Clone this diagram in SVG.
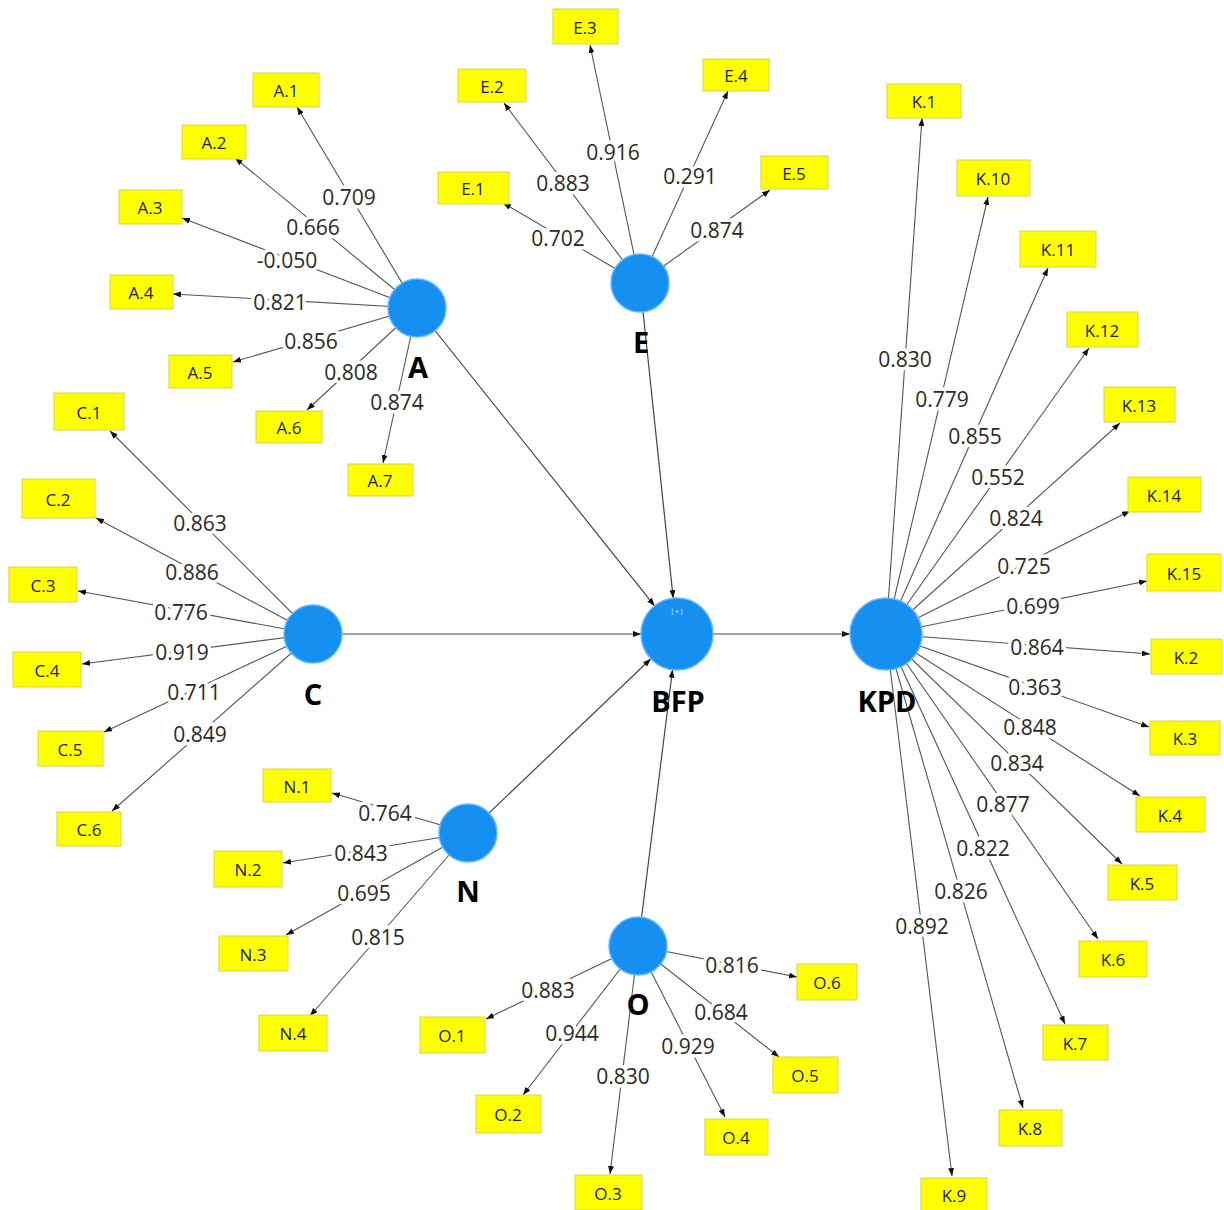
<svg xmlns="http://www.w3.org/2000/svg" width="1224" height="1210" viewBox="0 0 1224 1210">
<defs>
<marker id="ah" viewBox="0 0 8 6" refX="8" refY="3" markerWidth="8" markerHeight="6" markerUnits="userSpaceOnUse" orient="auto">
<path d="M0,0 L8,3 L0,6 z" fill="#111"/>
</marker>
<style>
.ln{stroke:#555;stroke-width:1.1;fill:none;marker-end:url(#ah)}
.st{stroke:#444;stroke-width:1.2;fill:none;marker-end:url(#ah)}
.ld{font-family:"Open Sans","Noto Sans","DejaVu Sans",sans-serif;font-size:21px;fill:#2a2a2a;text-anchor:middle;dominant-baseline:central;stroke:#fff;stroke-width:7;paint-order:stroke;stroke-linejoin:round}
.bx rect{fill:#ffff00;stroke:#d6d64a;stroke-width:1}
.bx text{font-family:"Open Sans","Noto Sans","DejaVu Sans",sans-serif;font-size:17px;fill:#222;text-anchor:middle;dominant-baseline:central}
.lv circle{fill:#1690f0;stroke:#62b8ff;stroke-width:1.5}
.lv text{font-family:"Open Sans","Noto Sans","DejaVu Sans",sans-serif;font-size:29px;font-weight:bold;fill:#000;text-anchor:middle}
.lv text.pl{font-family:"DejaVu Sans",sans-serif;font-size:7px;font-weight:normal;fill:#bfe3ff;text-anchor:middle}
</style>
</defs>
<rect width="1224" height="1210" fill="#fff"/>
<g id="connectors">
<!-- A -->
<line class="ln" x1="417" y1="308" x2="297" y2="107"/>
<line class="ln" x1="417" y1="308" x2="235" y2="158"/>
<line class="ln" x1="417" y1="308" x2="182" y2="218"/>
<line class="ln" x1="417" y1="308" x2="173" y2="294"/>
<line class="ln" x1="417" y1="308" x2="233" y2="362"/>
<line class="ln" x1="417" y1="308" x2="307" y2="410"/>
<line class="ln" x1="417" y1="308" x2="383" y2="463"/>
<!-- E -->
<line class="ln" x1="640" y1="283" x2="590" y2="45"/>
<line class="ln" x1="640" y1="283" x2="504" y2="103"/>
<line class="ln" x1="640" y1="283" x2="503" y2="203"/>
<line class="ln" x1="640" y1="283" x2="728" y2="91"/>
<line class="ln" x1="640" y1="283" x2="770" y2="190"/>
<!-- KPD -->
<line class="ln" x1="886" y1="634" x2="922" y2="118"/>
<line class="ln" x1="886" y1="634" x2="988" y2="197"/>
<line class="ln" x1="886" y1="634" x2="1048" y2="268"/>
<line class="ln" x1="886" y1="634" x2="1089" y2="348"/>
<line class="ln" x1="886" y1="634" x2="1120" y2="423"/>
<line class="ln" x1="886" y1="634" x2="1130" y2="511"/>
<line class="ln" x1="886" y1="634" x2="1147" y2="581"/>
<line class="ln" x1="886" y1="634" x2="1150" y2="654"/>
<line class="ln" x1="886" y1="634" x2="1149" y2="727"/>
<line class="ln" x1="886" y1="634" x2="1140" y2="796"/>
<line class="ln" x1="886" y1="634" x2="1122" y2="864"/>
<line class="ln" x1="886" y1="634" x2="1098" y2="939"/>
<line class="ln" x1="886" y1="634" x2="1065" y2="1024"/>
<line class="ln" x1="886" y1="634" x2="1023" y2="1108"/>
<line class="ln" x1="886" y1="634" x2="952" y2="1176"/>
<!-- C -->
<line class="ln" x1="313" y1="634" x2="110" y2="431"/>
<line class="ln" x1="313" y1="634" x2="96" y2="518"/>
<line class="ln" x1="313" y1="634" x2="78" y2="591"/>
<line class="ln" x1="313" y1="634" x2="82" y2="664"/>
<line class="ln" x1="313" y1="634" x2="104" y2="732"/>
<line class="ln" x1="313" y1="634" x2="112" y2="811"/>
<!-- N -->
<line class="ln" x1="468" y1="833" x2="332" y2="793"/>
<line class="ln" x1="468" y1="833" x2="283" y2="863"/>
<line class="ln" x1="468" y1="833" x2="286" y2="935"/>
<line class="ln" x1="468" y1="833" x2="310" y2="1016"/>
<!-- O -->
<line class="ln" x1="638" y1="946" x2="486" y2="1019"/>
<line class="ln" x1="638" y1="946" x2="523" y2="1095"/>
<line class="ln" x1="638" y1="946" x2="610" y2="1174"/>
<line class="ln" x1="638" y1="946" x2="725" y2="1117"/>
<line class="ln" x1="638" y1="946" x2="779" y2="1057"/>
<line class="ln" x1="638" y1="946" x2="797" y2="977"/>
<!-- structural -->
<line class="st" x1="417" y1="308" x2="654.6" y2="605.9"/>
<line class="st" x1="640" y1="283" x2="673.2" y2="598.2"/>
<line class="st" x1="313" y1="634" x2="641" y2="634"/>
<line class="st" x1="468" y1="833" x2="650.9" y2="658.8"/>
<line class="st" x1="638" y1="946" x2="672.5" y2="669.7"/>
<line class="st" x1="677" y1="634" x2="850" y2="634"/>
<!-- loadings -->
<text class="ld" x="349" y="197">0.709</text>
<text class="ld" x="313" y="227">0.666</text>
<text class="ld" x="287" y="260">-0.050</text>
<text class="ld" x="280" y="302">0.821</text>
<text class="ld" x="311" y="341">0.856</text>
<text class="ld" x="351" y="372">0.808</text>
<text class="ld" x="397" y="402">0.874</text>
<text class="ld" x="613" y="152">0.916</text>
<text class="ld" x="563" y="183">0.883</text>
<text class="ld" x="558" y="238">0.702</text>
<text class="ld" x="690" y="176">0.291</text>
<text class="ld" x="717" y="230">0.874</text>
<text class="ld" x="905" y="359">0.830</text>
<text class="ld" x="942" y="399">0.779</text>
<text class="ld" x="975" y="436">0.855</text>
<text class="ld" x="998" y="477">0.552</text>
<text class="ld" x="1016" y="518">0.824</text>
<text class="ld" x="1024" y="566">0.725</text>
<text class="ld" x="1033" y="606">0.699</text>
<text class="ld" x="1037" y="647">0.864</text>
<text class="ld" x="1035" y="687">0.363</text>
<text class="ld" x="1030" y="727">0.848</text>
<text class="ld" x="1017" y="763">0.834</text>
<text class="ld" x="1003" y="804">0.877</text>
<text class="ld" x="983" y="848">0.822</text>
<text class="ld" x="961" y="891">0.826</text>
<text class="ld" x="922" y="926">0.892</text>
<text class="ld" x="200" y="523">0.863</text>
<text class="ld" x="192" y="572">0.886</text>
<text class="ld" x="181" y="612">0.776</text>
<text class="ld" x="182" y="652">0.919</text>
<text class="ld" x="194" y="692">0.711</text>
<text class="ld" x="200" y="734">0.849</text>
<text class="ld" x="385" y="813">0.764</text>
<text class="ld" x="361" y="853">0.843</text>
<text class="ld" x="364" y="893">0.695</text>
<text class="ld" x="378" y="937">0.815</text>
<text class="ld" x="732" y="965">0.816</text>
<text class="ld" x="548" y="990">0.883</text>
<text class="ld" x="721" y="1012">0.684</text>
<text class="ld" x="572" y="1033">0.944</text>
<text class="ld" x="688" y="1046">0.929</text>
<text class="ld" x="623" y="1076">0.830</text>
</g>
<g id="node-A" class="lv"><circle cx="417" cy="308" r="29"/><text x="418" y="378">A</text></g>
<g id="node-E" class="lv"><circle cx="640" cy="283" r="29"/><text x="641" y="353">E</text></g>
<g id="node-C" class="lv"><circle cx="313" cy="634" r="29"/><text x="313" y="705">C</text></g>
<g id="node-N" class="lv"><circle cx="468" cy="833" r="29"/><text x="468" y="902">N</text></g>
<g id="node-O" class="lv"><circle cx="638" cy="946" r="29"/><text x="638" y="1015">O</text></g>
<g id="node-BFP" class="lv"><circle cx="677" cy="634" r="36"/><text x="678" y="712">BFP</text><text class="pl" x="677" y="614">[+]</text></g>
<g id="node-KPD" class="lv"><circle cx="886" cy="634" r="36"/><text x="887" y="712">KPD</text></g>
<g id="items-A" class="bx">
<g id="A.1"><rect x="253" y="73" width="66" height="34"/><text x="286" y="90">A.1</text></g>
<g id="A.2"><rect x="182" y="125" width="64" height="34"/><text x="214" y="142">A.2</text></g>
<g id="A.3"><rect x="119" y="190" width="63" height="34"/><text x="150" y="207">A.3</text></g>
<g id="A.4"><rect x="110" y="275" width="63" height="34"/><text x="141" y="292">A.4</text></g>
<g id="A.5"><rect x="169" y="355" width="63" height="33"/><text x="200" y="372">A.5</text></g>
<g id="A.6"><rect x="256" y="411" width="66" height="32"/><text x="289" y="427">A.6</text></g>
<g id="A.7"><rect x="348" y="464" width="65" height="32"/><text x="380" y="480">A.7</text></g>
</g>
<g id="items-E" class="bx">
<g id="E.1"><rect x="438" y="172" width="71" height="32"/><text x="473" y="188">E.1</text></g>
<g id="E.2"><rect x="458" y="69" width="68" height="33"/><text x="492" y="86">E.2</text></g>
<g id="E.3"><rect x="553" y="9" width="65" height="35"/><text x="585" y="27">E.3</text></g>
<g id="E.4"><rect x="703" y="59" width="66" height="32"/><text x="736" y="75">E.4</text></g>
<g id="E.5"><rect x="761" y="156" width="67" height="33"/><text x="794" y="173">E.5</text></g>
</g>
<g id="items-K" class="bx">
<g id="K.1"><rect x="887" y="84" width="74" height="34"/><text x="924" y="101">K.1</text></g>
<g id="K.10"><rect x="957" y="160" width="73" height="36"/><text x="993" y="178">K.10</text></g>
<g id="K.11"><rect x="1020" y="231" width="76" height="36"/><text x="1058" y="249">K.11</text></g>
<g id="K.12"><rect x="1067" y="312" width="71" height="35"/><text x="1102" y="330">K.12</text></g>
<g id="K.13"><rect x="1104" y="387" width="71" height="35"/><text x="1139" y="405">K.13</text></g>
<g id="K.14"><rect x="1128" y="477" width="73" height="35"/><text x="1164" y="495">K.14</text></g>
<g id="K.15"><rect x="1147" y="554" width="74" height="37"/><text x="1184" y="573">K.15</text></g>
<g id="K.2"><rect x="1151" y="639" width="71" height="35"/><text x="1186" y="657">K.2</text></g>
<g id="K.3"><rect x="1150" y="721" width="70" height="34"/><text x="1185" y="738">K.3</text></g>
<g id="K.4"><rect x="1136" y="797" width="69" height="35"/><text x="1170" y="815">K.4</text></g>
<g id="K.5"><rect x="1108" y="865" width="69" height="35"/><text x="1142" y="883">K.5</text></g>
<g id="K.6"><rect x="1079" y="941" width="68" height="36"/><text x="1113" y="959">K.6</text></g>
<g id="K.7"><rect x="1043" y="1025" width="65" height="35"/><text x="1075" y="1043">K.7</text></g>
<g id="K.8"><rect x="999" y="1110" width="63" height="36"/><text x="1030" y="1128">K.8</text></g>
<g id="K.9"><rect x="921" y="1178" width="66" height="34"/><text x="954" y="1195">K.9</text></g>
</g>
<g id="items-C" class="bx">
<g id="C.1"><rect x="54" y="393" width="70" height="37"/><text x="89" y="412">C.1</text></g>
<g id="C.2"><rect x="22" y="479" width="73" height="39"/><text x="58" y="499">C.2</text></g>
<g id="C.3"><rect x="9" y="567" width="68" height="35"/><text x="43" y="585">C.3</text></g>
<g id="C.4"><rect x="13" y="652" width="68" height="35"/><text x="47" y="670">C.4</text></g>
<g id="C.5"><rect x="38" y="731" width="65" height="35"/><text x="70" y="749">C.5</text></g>
<g id="C.6"><rect x="57" y="812" width="64" height="34"/><text x="89" y="829">C.6</text></g>
</g>
<g id="items-N" class="bx">
<g id="N.1"><rect x="263" y="769" width="68" height="33"/><text x="297" y="786">N.1</text></g>
<g id="N.2"><rect x="214" y="851" width="68" height="36"/><text x="248" y="869">N.2</text></g>
<g id="N.3"><rect x="219" y="936" width="69" height="35"/><text x="253" y="954">N.3</text></g>
<g id="N.4"><rect x="259" y="1015" width="68" height="36"/><text x="293" y="1033">N.4</text></g>
</g>
<g id="items-O" class="bx">
<g id="O.1"><rect x="420" y="1017" width="65" height="36"/><text x="452" y="1035">O.1</text></g>
<g id="O.2"><rect x="476" y="1095" width="65" height="38"/><text x="508" y="1114">O.2</text></g>
<g id="O.3"><rect x="575" y="1175" width="67" height="35"/><text x="608" y="1193">O.3</text></g>
<g id="O.4"><rect x="705" y="1119" width="63" height="36"/><text x="736" y="1137">O.4</text></g>
<g id="O.5"><rect x="773" y="1057" width="65" height="36"/><text x="805" y="1075">O.5</text></g>
<g id="O.6"><rect x="797" y="964" width="60" height="36"/><text x="827" y="982">O.6</text></g>
</g>
</svg>
